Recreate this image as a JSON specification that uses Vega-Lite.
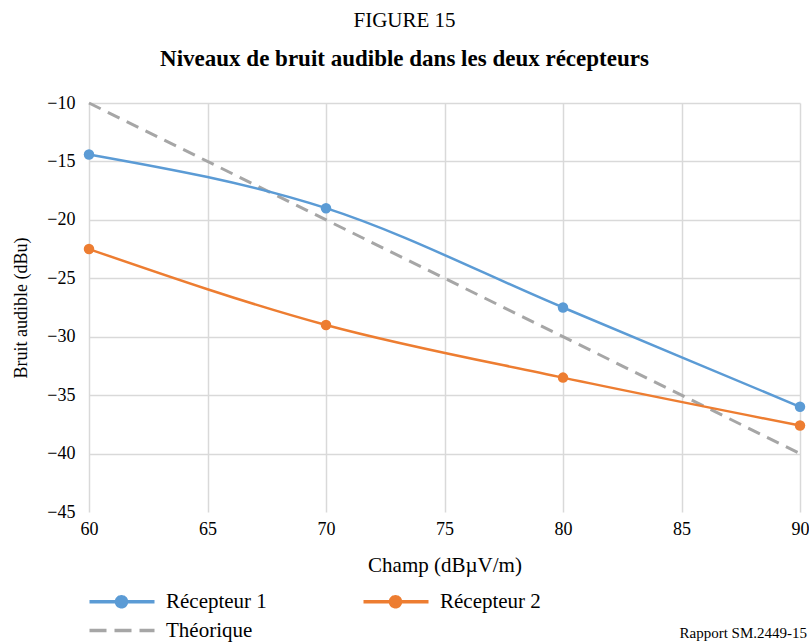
{
  "$schema": "https://vega.github.io/schema/vega-lite/v6.json",
  "width": 711,
  "height": 409,
  "autosize": {"type": "none"},
  "padding": {"left": 89, "top": 103, "right": 9, "bottom": 130},
  "background": "white",
  "title": {
    "text": "FIGURE 15",
    "subtitle": "Niveaux de bruit audible dans les deux récepteurs",
    "anchor": "middle",
    "dx": -40,
    "offset": 23,
    "font": "Liberation Serif",
    "fontSize": 21,
    "fontWeight": "normal",
    "color": "black",
    "subtitleFont": "Liberation Serif",
    "subtitleFontSize": 23,
    "subtitleFontWeight": "bold",
    "subtitleColor": "black",
    "subtitlePadding": 17
  },
  "config": {
    "view": {"stroke": null},
    "font": "Liberation Serif",
    "axis": {
      "labelFont": "Liberation Serif",
      "titleFont": "Liberation Serif",
      "labelColor": "black",
      "titleColor": "black",
      "labelFontSize": 18,
      "domain": false,
      "ticks": false,
      "gridColor": "#d9d9d9",
      "gridWidth": 1.5,
      "titleFontWeight": "normal"
    },
    "legend": {"labelFont": "Liberation Serif"}
  },
  "data": {
    "values": [
      {"champ": 60, "bruit": -10, "serie": "Théorique"},
      {"champ": 90, "bruit": -40, "serie": "Théorique"},
      {"champ": 60, "bruit": -14.4, "serie": "Récepteur 1"},
      {"champ": 70, "bruit": -19.0, "serie": "Récepteur 1"},
      {"champ": 80, "bruit": -27.5, "serie": "Récepteur 1"},
      {"champ": 90, "bruit": -36.0, "serie": "Récepteur 1"},
      {"champ": 60, "bruit": -22.5, "serie": "Récepteur 2"},
      {"champ": 70, "bruit": -29.0, "serie": "Récepteur 2"},
      {"champ": 80, "bruit": -33.5, "serie": "Récepteur 2"},
      {"champ": 90, "bruit": -37.6, "serie": "Récepteur 2"}
    ]
  },
  "encoding": {
    "x": {
      "field": "champ",
      "type": "quantitative",
      "scale": {"domain": [60, 90], "nice": false},
      "axis": {
        "values": [60, 65, 70, 75, 80, 85, 90],
        "title": "Champ (dBµV/m)",
        "labelFont": "Liberation Serif",
        "titleFont": "Liberation Serif",
        "titleFontSize": 21,
        "titlePadding": 16,
        "labelPadding": 8,
        "labelFlush": false
      }
    },
    "y": {
      "field": "bruit",
      "type": "quantitative",
      "scale": {"domain": [-45, -10], "nice": false},
      "axis": {
        "values": [-45, -40, -35, -30, -25, -20, -15, -10],
        "title": "Bruit audible (dBu)",
        "labelFont": "Liberation Serif",
        "titleFont": "Liberation Serif",
        "titleFontSize": 18,
        "titlePadding": 16,
        "labelPadding": 14,
        "gridOpacity": {"condition": {"test": "datum.value == -45", "value": 0}, "value": 1}
      }
    },
    "color": {
      "field": "serie",
      "type": "nominal",
      "scale": {
        "domain": ["Récepteur 1", "Récepteur 2", "Théorique"],
        "range": ["#5b9bd5", "#ed7d31", "#a6a6a6"]
      },
      "legend": {
        "title": null,
        "orient": "none",
        "legendX": 0,
        "legendY": 488,
        "columns": 2,
        "direction": "horizontal",
        "padding": 0,
        "symbolSize": 100,
        "symbolStrokeWidth": 3,
        "labelOffset": 56,
        "labelFont": "Liberation Serif",
        "labelFontSize": 21,
        "labelColor": "black",
        "columnPadding": 89,
        "rowPadding": 5,
        "encode": {
          "symbols": {
            "update": {
              "shape": {"signal": "datum.value == 'Théorique' ? 'M-2,0H11' : 'M-2,0H11M3.4,0A1,1 0 1,0 5.4,0A1,1 0 1,0 3.4,0Z'"},
              "fill": {"signal": "datum.value == 'Récepteur 1' ? '#5b9bd5' : datum.value == 'Récepteur 2' ? '#ed7d31' : 'transparent'"},
              "strokeDash": {"signal": "datum.value == 'Théorique' ? [17, 8] : [1, 0]"},
              "strokeWidth": {"value": 3.5}
            }
          }
        }
      }
    }
  },
  "layer": [
    {
      "transform": [{"filter": "datum.serie == 'Théorique'"}],
      "mark": {"type": "line", "strokeWidth": 3, "strokeDash": [13, 8]}
    },
    {
      "transform": [{"filter": "datum.serie != 'Théorique'"}],
      "mark": {"type": "line", "strokeWidth": 2.5, "interpolate": "monotone"}
    },
    {
      "transform": [{"filter": "datum.serie != 'Théorique'"}],
      "mark": {"type": "circle", "size": 110, "opacity": 1}
    },
    {
      "data": {"values": [{"champ": 90, "bruit": -45, "texte": "Rapport SM.2449-15"}]},
      "mark": {"type": "text", "align": "right", "baseline": "middle", "dx": 7, "dy": 121, "font": "Liberation Serif", "fontSize": 15, "color": "black"},
      "encoding": {"text": {"field": "texte"}, "color": {"value": "black"}}
    }
  ]
}
